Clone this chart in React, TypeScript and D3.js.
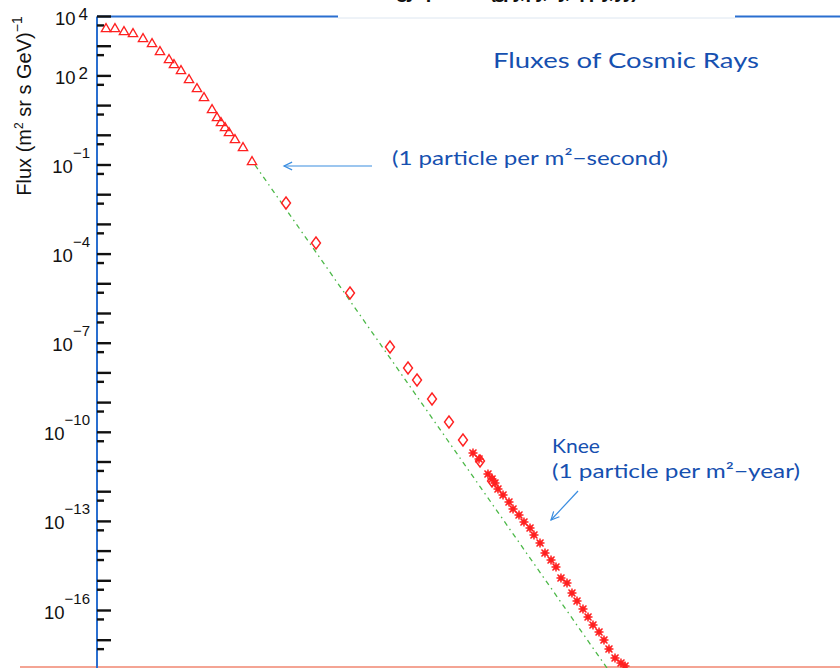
import React from 'react';
import * as d3 from 'd3';

const W = 840;
const H = 668;

// Values (log10 of energy in eV, log10 of flux)
const triangleLogE = [9.136, 9.271, 9.407, 9.543, 9.694, 9.83, 9.95, 10.086, 10.161, 10.267, 10.388, 10.508, 10.614, 10.735, 10.81, 10.87, 10.931, 10.991, 11.081, 11.202, 11.338];
const triangleLogFlux = [3.579, 3.579, 3.478, 3.411, 3.242, 3.074, 2.805, 2.535, 2.367, 2.165, 1.862, 1.559, 1.256, 0.852, 0.582, 0.414, 0.246, 0.077, -0.158, -0.428, -0.899];

const diamondLogE = [11.851, 12.303, 12.816, 13.419, 13.691, 13.827, 14.053, 14.309, 14.52, 14.777, 14.958];
const diamondLogFlux = [-2.279, -3.626, -5.31, -7.128, -7.835, -8.239, -8.879, -9.653, -10.259, -10.966, -11.64];

const starLogE = [14.671, 14.762, 14.897, 14.958, 15.003, 15.048, 15.124, 15.214, 15.275, 15.365, 15.44, 15.531, 15.591, 15.682, 15.757, 15.848, 15.923, 15.998, 16.089, 16.164, 16.24, 16.33, 16.406, 16.481, 16.572, 16.647, 16.722, 16.813, 16.903, 16.964];
const starLogFlux = [-10.697, -10.899, -11.404, -11.572, -11.707, -11.909, -12.111, -12.347, -12.582, -12.785, -13.02, -13.222, -13.458, -13.727, -14.064, -14.3, -14.535, -14.906, -15.074, -15.411, -15.68, -15.949, -16.219, -16.488, -16.724, -16.993, -17.296, -17.599, -17.768, -17.869];

const fitLogE = [11.383, 17.0];
const fitLogFlux = [-1.0, -18.92];

const majorTickExps = d3.range(-18, 5);
const labelExps = [4, 2, -1, -4, -7, -10, -13, -16];

const x = d3.scaleLog().domain([1e9, 1e21]).range([97, 97 + 12 * 66.3]);
const y = d3.scaleLog().domain([1e-18, 1e4]).range([16.5 + 22 * 29.7, 16.5]);

const px = (le: number) => x(Math.pow(10, le));
const py = (lf: number) => y(Math.pow(10, lf));

const RED = '#ff2020';
const BLUE_AX = '#2a6fd0';
const BLUE_TXT = '#1650b0';
const BLUE_ARROW = '#3a8de0';
const ANNO_FONT = "Lato, 'Noto Sans', sans-serif";

function arrowHead(x1: number, y1: number, x2: number, y2: number, len = 9) {
  const a = Math.atan2(y2 - y1, x2 - x1);
  const p1 = [x2 - len * Math.cos(a - 0.45), y2 - len * Math.sin(a - 0.45)];
  const p2 = [x2 - len * Math.cos(a + 0.45), y2 - len * Math.sin(a + 0.45)];
  return `M${p1[0]},${p1[1]}L${x2},${y2}L${p2[0]},${p2[1]}`;
}

export default function App() {
  const triSym = d3.symbol().type(d3.symbolTriangle).size(38)();
  const diamondPath = 'M0,-6L4.5,0L0,6L-4.5,0Z';
  const fitLine = d3.line<number>()
    .x((_, i) => px(fitLogE[i]))
    .y((_, i) => py(fitLogFlux[i]))(fitLogE);

  const axisX = 97;
  const yTop = y(1e4);

  return (
    <svg width={W} height={H} style={{ position: 'absolute', left: 0, top: 0, background: '#fff' }}
      fontFamily="'Liberation Sans', Arial, sans-serif">
      <defs>
        <clipPath id="plot">
          <rect x={axisX} y={0} width={W - axisX} height={H} />
        </clipPath>
      </defs>
      <rect x={0} y={0} width={W} height={H} fill="#fff" />

      {/* partially cut title at top */}
      <text x={362} y={-2} fontSize={20} fontWeight="bold" fill="#111" textLength={276} lengthAdjust="spacing">
        Energy spectrum (gpy, py, by, apply, yy)
      </text>

      {/* top border */}
      <line x1={axisX} x2={338} y1={yTop} y2={yTop} stroke={BLUE_AX} strokeWidth={2} />
      <line x1={338} x2={735} y1={yTop + 1.5} y2={yTop + 1.5} stroke="#dde6f0" strokeWidth={1} />
      <line x1={735} x2={W} y1={yTop} y2={yTop} stroke={BLUE_AX} strokeWidth={2} />

      {/* bottom line */}
      <line x1={20} x2={W} y1={667} y2={667} stroke="#f4a494" strokeWidth={2} />

      {/* y axis */}
      <line x1={axisX} x2={axisX} y1={yTop} y2={H} stroke={BLUE_AX} strokeWidth={2} />
      {majorTickExps.map((e) => (
        <g key={'t' + e}>
          <line x1={axisX} x2={111} y1={py(e)} y2={py(e)} stroke="#111" strokeWidth={2.4} />
          <line x1={axisX} x2={104} y1={y(Math.pow(10, e) / 2)} y2={y(Math.pow(10, e) / 2)} stroke="#111" strokeWidth={2.4} />
        </g>
      ))}
      {labelExps.map((e) => (
        <text key={'l' + e} x={e > 0 ? 88 : 90} y={py(e) + 8} textAnchor="end" fill="#111">
          <tspan fontSize={18.5}>10</tspan>
          {e > 0 ? (
            <tspan fontSize={17} dx={3} dy={-5}>{String(e)}</tspan>
          ) : (
            <tspan fontSize={15} dy={-15}>{'\u2212' + Math.abs(e)}</tspan>
          )}
        </text>
      ))}

      {/* y-axis title */}
      <text transform="translate(31,106) rotate(-90)" textAnchor="middle" fill="#111" fontSize={20}>
        <tspan>Flux (m</tspan>
        <tspan fontSize={12} dy={-8}>2</tspan>
        <tspan dy={8}> sr s GeV)</tspan>
        <tspan fontSize={14} dy={-9}>{'\u22121'}</tspan>
      </text>

      <g clipPath="url(#plot)">
        {/* fit line */}
        <path d={fitLine || ''} fill="none" stroke="#4cb848" strokeWidth={1.3} strokeDasharray="5,4,1.5,4" />

        {triangleLogE.map((e, i) => (
          <path key={'tr' + i} d={triSym || ''} transform={`translate(${px(e)},${py(triangleLogFlux[i])})`}
            fill="none" stroke={RED} strokeWidth={1.3} />
        ))}
        {diamondLogE.map((e, i) => (
          <path key={'di' + i} d={diamondPath} transform={`translate(${px(e)},${py(diamondLogFlux[i])})`}
            fill="none" stroke={RED} strokeWidth={1.4} />
        ))}
        {starLogE.map((e, i) => (
          <g key={'st' + i} transform={`translate(${px(e)},${py(starLogFlux[i])})`} stroke={RED} strokeWidth={1.5}>
            <line x1={-4.5} x2={4.5} y1={0} y2={0} />
            <line x1={0} x2={0} y1={-4.5} y2={4.5} />
            <line x1={-3.5} x2={3.5} y1={-3.5} y2={3.5} />
            <line x1={-3.5} x2={3.5} y1={3.5} y2={-3.5} />
            <rect x={-2.4} y={-2.4} width={4.8} height={4.8} fill={RED} stroke="none" />
          </g>
        ))}
      </g>

      {/* annotations */}
      <text x={493} y={68} fontSize={22} fill={BLUE_TXT} fontFamily={ANNO_FONT}
        textLength={266} lengthAdjust="spacingAndGlyphs">Fluxes of Cosmic Rays</text>

      <line x1={372} x2={284} y1={166} y2={166} stroke={BLUE_ARROW} strokeWidth={1.2} />
      <path d={arrowHead(372, 166, 284, 166)} fill="none" stroke={BLUE_ARROW} strokeWidth={1.2} />
      <text x={392} y={165} fontSize={20} fill={BLUE_TXT} fontFamily={ANNO_FONT}
        textLength={276} lengthAdjust="spacingAndGlyphs">(1 particle per m²{'\u2212'}second)</text>

      <text x={552} y={453} fontSize={19} fill={BLUE_TXT} fontFamily={ANNO_FONT}
        textLength={48} lengthAdjust="spacingAndGlyphs">Knee</text>
      <text x={552} y={478} fontSize={19.5} fill={BLUE_TXT} fontFamily={ANNO_FONT}
        textLength={248} lengthAdjust="spacingAndGlyphs">(1 particle per m²{'\u2212'}year)</text>
      <line x1={578} x2={551} y1={491} y2={520} stroke={BLUE_ARROW} strokeWidth={1.2} />
      <path d={arrowHead(578, 491, 551, 520)} fill="none" stroke={BLUE_ARROW} strokeWidth={1.2} />
    </svg>
  );
}
